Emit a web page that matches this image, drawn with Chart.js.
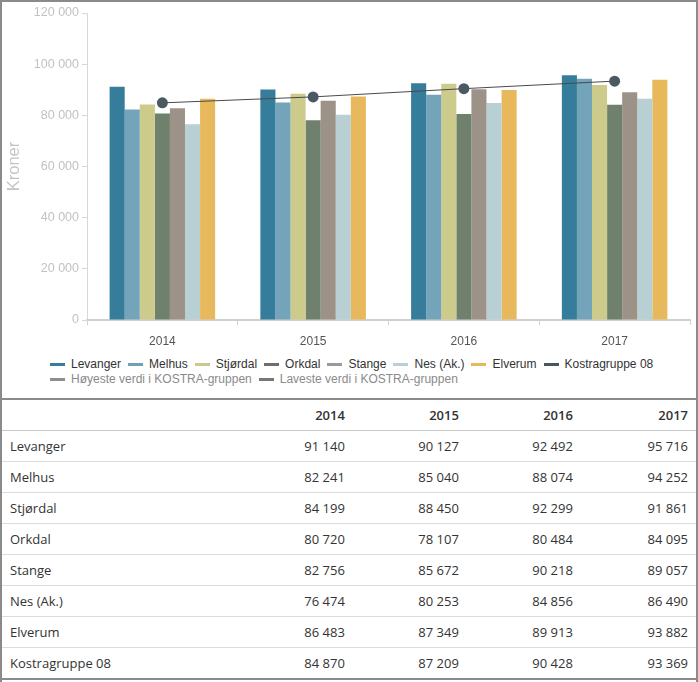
<!DOCTYPE html>
<html>
<head>
<meta charset="utf-8">
<script src="https://cdn.jsdelivr.net/npm/chart.js@4/dist/chart.umd.min.js"></script>
<style>
  body { margin: 0; background: #fff; }
  #wrap { width: 698px; height: 682px; box-sizing: border-box; border: 2px solid #8a8a8a; border-bottom: none; position: relative; overflow: hidden; }
  #chartBox { width: 694px; height: 352px; position: relative; }
  #legend { padding-left: 48px; width: 630px; display: flex; flex-wrap: wrap; font: 12px "Liberation Sans", Arial, sans-serif; color: #333; line-height: 15px; margin-top: 3px; }
  #legend span.item { display: inline-flex; align-items: center; margin-right: 7px; }
  #legend span.mark { display: inline-block; width: 15px; height: 3px; margin-right: 6px; }
  table { position: absolute; left: -2px; top: 396px; width: 698px; border-collapse: collapse; font: 13px "Open Sans", sans-serif; color: #333; border: 2px solid #8a8a8a; }
  td, th { height: 30px; padding: 0 8px; border-bottom: 1px solid #dcdcdc; }
  th { font-weight: 600; text-align: right; border-bottom: 1px solid #c8c8c8; }
  td { text-align: right; }
  td:first-child { text-align: left; }
</style>
</head>
<body>
<div id="wrap">
  <div id="chartBox"><canvas id="chart"></canvas></div>
  <div id="legend"></div>
  <table id="tbl"></table>
</div>
<script>
// years on the x axis
const years = ["2014", "2015", "2016", "2017"];

// values per municipality, kroner
const levanger = [91140, 90127, 92492, 95716];
const melhus = [82241, 85040, 88074, 94252];
const stjordal = [84199, 88450, 92299, 91861];
const orkdal = [80720, 78107, 80484, 84095];
const stange = [82756, 85672, 90218, 89057];
const nes = [76474, 80253, 84856, 86490];
const elverum = [86483, 87349, 89913, 93882];
const kostra08 = [84870, 87209, 90428, 93369];

const fmt = v => String(v).replace(/\B(?=(\d{3})+(?!\d))/g, " ");

const bar = (label, data, color, legendColor) => ({
  type: "bar", label, data, backgroundColor: color, borderWidth: 0, legendColor, order: 2
});

const datasets = [
  bar("Levanger", levanger, "#367c9b", "#367c9b"),
  bar("Melhus", melhus, "#74a4b9", "#6fa0b5"),
  bar("Stjørdal", stjordal, "#cccb8c", "#c9c98b"),
  bar("Orkdal", orkdal, "#6f806c", "#6e6e6e"),
  bar("Stange", stange, "#9c9288", "#9a9a9a"),
  bar("Nes (Ak.)", nes, "#b8cfd3", "#b8cfd3"),
  bar("Elverum", elverum, "#e7b95c", "#e7b95c"),
  {
    type: "line", label: "Kostragruppe 08", data: kostra08,
    borderColor: "#4a4a4a", borderWidth: 1, backgroundColor: "#4b5963",
    pointRadius: 5.5, pointBackgroundColor: "#4b5963", pointBorderWidth: 0,
    legendColor: "#475760", order: 1
  },
  { type: "line", label: "Høyeste verdi i KOSTRA-gruppen", data: [], hidden: true, legendColor: "#8e8e8e", muted: true },
  { type: "line", label: "Laveste verdi i KOSTRA-gruppen", data: [], hidden: true, legendColor: "#777", muted: true }
];

const chart = new Chart(document.getElementById("chart"), {
  data: { labels: years, datasets },
  options: {
    responsive: true,
    maintainAspectRatio: false,
    animation: false,
    layout: { padding: { top: 11, right: 6, left: 0, bottom: 0 } },
    datasets: { bar: { categoryPercentage: 0.7, barPercentage: 1 } },
    plugins: { legend: { display: false }, tooltip: { enabled: false } },
    scales: {
      x: {
        grid: { offset: true, drawOnChartArea: false, tickLength: 5, color: "#d0d0d0" },
        border: { color: "#d0d0d0", width: 2 },
        ticks: { color: "#555", padding: 9, font: { family: "Liberation Sans, Arial", size: 12 } },
        afterFit: s => { s.height = 34; }
      },
      y: {
        min: 0, max: 120000,
        ticks: { stepSize: 20000, color: "#c2c2c2", padding: 3, font: { family: "Liberation Sans, Arial", size: 12.5 }, callback: v => fmt(v) },
        grid: { drawOnChartArea: false, tickLength: 5, color: "#d8d8d8" },
        border: { color: "#d8d8d8", width: 1 },
        title: { display: true, text: "Kroner", color: "#c4c4c4", padding: { top: 3, bottom: 4 }, font: { family: "Liberation Sans, Arial", size: 16.5 } },
        afterFit: s => { s.width = 85; }
      }
    }
  }
});

// legend
const legend = document.getElementById("legend");
chart.data.datasets.forEach(ds => {
  const item = document.createElement("span");
  item.className = "item";
  if (ds.muted) item.style.color = "#8a8a8a";
  item.innerHTML = '<span class="mark" style="background:' + ds.legendColor + '"></span>' + ds.label;
  legend.appendChild(item);
});

// table
const rows = [
  ["Levanger", levanger], ["Melhus", melhus], ["Stjørdal", stjordal], ["Orkdal", orkdal],
  ["Stange", stange], ["Nes (Ak.)", nes], ["Elverum", elverum], ["Kostragruppe 08", kostra08]
];
let html = "<tr><th></th>" + years.map(y => "<th>" + y + "</th>").join("") + "</tr>";
rows.forEach(r => {
  html += "<tr><td>" + r[0] + "</td>" + r[1].map(v => "<td>" + fmt(v) + "</td>").join("") + "</tr>";
});
document.getElementById("tbl").innerHTML = html;
</script>
</body>
</html>
